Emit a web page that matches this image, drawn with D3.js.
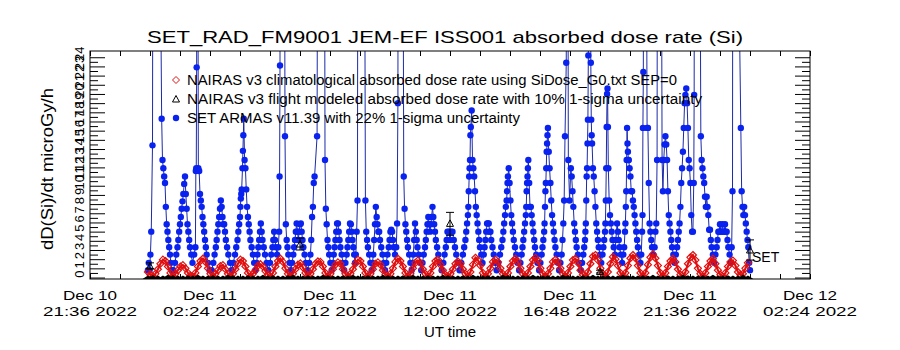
<!DOCTYPE html>
<html>
<head>
<meta charset="utf-8">
<script src="https://cdn.jsdelivr.net/npm/d3@7"></script>
<style>
  body { margin: 0; background: #fff; }
  svg text { font-family: "Liberation Sans", "DejaVu Sans", sans-serif; fill: #000; }
</style>
</head>
<body>
<div id="chart"></div>
<script>
// time axis: minutes after Dec 10 2022 21:36 UT
const T0 = Date.UTC(2022, 11, 10, 21, 36);
const SPAN_MIN = 1728;

const tickMinutes = [0, 288, 576, 864, 1152, 1440, 1728];
const tickDay = ["Dec 10", "Dec 11", "Dec 11", "Dec 11", "Dec 11", "Dec 11", "Dec 12"];
const tickHour = ["21:36 2022", "02:24 2022", "07:12 2022", "12:00 2022", "16:48 2022", "21:36 2022", "02:24 2022"];
const yTicks = d3.range(0, 25);

// SET ARMAS absorbed dose rate (microGy/h) - time in minutes after T0
const setTime = [
  139,141,143,145,147,150,151,156,162,168,172,174,176,178,180,182,184,186,188,190,192,194,197,
  200,204,207,210,212,214,216,218,220,222,224,226,228,230,232,234,236,238,240,243,246,250,253,
  254,255,256,257,258,260,262,264,266,268,270,272,274,276,278,280,283,287,
  292,296,299,302,304,306,308,310,312,314,316,318,320,322,324,326,329,332,336,340,
  344,348,351,354,356,358,360,361,362,363,364,366,367,368,369,371,373,375,377,379,381,383,385,388,391,394,397,
  400,402,404,406,408,410,412,414,417,420,424,428,
  432,435,438,440,442,444,446,449,452,454,455,456,457,460,464,467,468,470,472,474,476,479,482,
  485,488,490,492,494,496,498,500,502,504,506,508,510,512,515,518,522,
  526,529,531,533,535,537,539,545,547,552,558,563,564,566,568,570,572,574,577,580,
  583,585,587,589,591,593,595,597,599,601,604,607,610,
  613,616,618,620,622,624,626,628,630,632,634,636,
  638,640,642,643,648,653,659,661,663,665,667,670,673,676,
  678,680,682,684,686,688,690,692,694,696,699,702,705,708,
  711,714,717,719,721,723,725,727,729,732,735,
  737,739,740,745,750,753,755,757,759,761,763,766,769,772,
  774,776,778,780,782,784,786,789,792,795,
  798,801,804,806,808,810,812,814,816,818,820,822,824,826,828,830,833,836,840,844,
  848,851,854,856,858,861,864,867,870,873,876,879,883,887,
  891,895,898,901,903,905,907,908,909,910,911,912,913,914,916,918,920,922,924,926,928,930,932,934,936,939,942,
  945,947,949,951,953,955,957,959,961,963,966,969,972,976,
  980,984,987,990,992,994,996,998,1000,1001,1002,1003,1005,1007,1009,1011,1013,1015,1017,1020,1023,1026,1030,
  1033,1036,1038,1040,1042,1044,1046,1047,1048,1049,1050,1051,1052,1054,1056,1058,1060,1062,1064,1066,1068,1071,1074,1078,
  1081,1084,1086,1088,1090,1091,1092,1093,1094,1095,1096,1097,1098,1099,1101,1103,1105,1107,1109,1111,1113,1115,1117,1120,1123,1126,
  1129,1132,1134,1136,1138,1140,1143,1145,1147,1148,1151,1154,1156,1158,1160,1162,1164,1166,1168,1171,1174,1178,
  1181,1184,1186,1188,1189,1190,1191,1192,1193,1194,1195,1196,1197,1200,1202,1203,1204,1205,1207,1209,1211,1213,1215,1217,1219,1221,1224,1227,
  1230,1232,1234,1236,1237,1238,1239,1240,1241,1242,1243,1244,1246,1248,1250,1252,1254,1257,1260,1262,1265,1267,1269,1271,1274,1277,
  1280,1282,1284,1285,1286,1287,1288,1289,1290,1291,1292,1293,1295,1297,1299,1301,1303,1305,1307,1309,1311,1313,1315,1318,1321,
  1323,1325,1326,1327,1328,1329,1334,1337,1339,1341,1343,1345,1347,1349,1352,1355,1357,1359,1361,1362,1368,1372,
  1373,1375,1377,1379,1381,1383,1385,1387,1389,1391,1393,1395,1397,1400,1403,
  1406,1409,1411,1413,1415,1417,1419,1421,1423,1425,1427,1429,1431,1433,1435,1437,1439,1441,1443,1445,1447,1449,1450,
  1451,1456,1461,1464,1466,1468,1470,1472,1474,1476,1478,1480,1482,1484,1486,1488,1490,1492,1495,1498,
  1501,1504,1506,1508,1510,1512,1514,1516,1518,1520,1522,1524,1526,1528,1530,1532,1535,1538,
  1540,1542,1543,1548,1554,1558,1562,1564,1566,1568,1570,1572,1574,1576,1578,1580,1582,1584
];
const setDose = [
  0.8,1.6,0.8,2.5,5.0,14.4,45,60,55,40,17.3,12.8,11.9,11.0,10.3,7.7,5.8,5.0,4.1,3.3,2.5,1.6,0.8,
  0.8,1.6,2.5,3.3,4.1,5.0,5.8,6.6,7.5,8.3,9.1,10.2,11.0,9.1,7.5,5.8,5.0,4.1,3.3,2.5,1.6,2.5,3.3,
  11.6,11.9,22.9,70,60,11.9,11.6,9.1,8.4,7.7,6.6,5.8,5.0,4.1,3.3,2.5,1.6,0.8,
  0.8,1.6,2.5,3.3,4.1,5.0,5.8,6.6,7.5,8.4,7.7,6.6,5.8,5.8,5.0,4.1,3.3,2.5,1.6,0.8,
  1.6,2.5,3.3,4.1,5.0,5.8,6.6,7.7,8.6,9.1,9.6,11.9,13.8,15.5,17.3,12.8,11.9,9.6,7.7,6.6,5.8,5.0,4.1,3.3,2.5,1.6,0.8,
  1.6,2.5,3.3,4.1,5.0,5.9,5.0,4.1,3.3,2.5,1.6,0.8,
  1.6,2.5,3.3,4.1,5.0,4.1,3.3,2.5,3.3,5.0,11.0,23.1,80,90,70,40,15.4,5.8,4.1,3.3,2.5,1.6,0.8,
  1.6,2.5,3.3,4.1,5.0,5.9,5.0,4.1,5.0,5.8,5.9,5.0,4.1,3.3,2.5,1.6,0.8,
  1.6,2.5,4.1,6.6,7.7,10.3,11.0,15.4,60,80,70,40,12.8,7.5,5.8,4.1,3.3,2.5,1.6,0.8,
  1.6,2.5,3.3,4.1,5.0,5.9,5.9,5.0,4.1,3.3,2.5,1.6,0.8,
  1.6,2.5,3.3,4.1,5.0,5.9,5.8,5.0,4.1,3.3,2.5,1.6,
  2.5,5.0,8.4,60,75,65,40,8.4,5.0,4.1,3.3,2.5,1.6,0.8,
  1.6,2.5,4.1,5.8,7.7,6.6,5.8,5.0,5.0,4.1,3.3,2.5,1.6,0.8,
  1.6,2.5,3.3,4.1,5.0,5.2,5.0,4.1,3.3,2.5,3.3,
  5.9,19.0,70,90,60,11.0,7.5,5.8,5.0,4.1,3.3,2.5,1.6,0.8,
  1.6,2.5,4.1,5.9,5.0,4.1,3.3,2.5,1.6,0.8,
  1.6,2.5,3.3,4.1,5.0,5.8,6.6,5.8,5.0,5.8,6.6,7.7,6.6,5.8,5.0,4.1,3.3,2.5,1.6,0.8,
  1.6,2.5,3.3,4.1,5.0,5.0,4.1,5.0,5.0,4.1,3.3,2.5,1.6,0.8,
  1.6,2.5,3.3,4.1,5.0,5.9,6.8,7.7,9.4,11.0,11.9,12.8,15.5,16.4,18.2,12.8,11.9,11.0,9.4,7.7,6.8,5.9,5.0,4.1,3.3,2.5,1.6,
  2.5,3.3,4.1,5.0,5.9,5.9,5.9,5.0,5.0,4.1,3.3,2.5,1.6,0.8,
  1.6,2.5,3.3,4.1,5.0,5.9,6.8,7.7,8.4,9.4,10.3,11.0,11.9,10.3,8.4,6.8,5.9,5.0,4.1,3.3,2.5,1.6,0.8,
  1.6,2.5,3.3,4.1,5.0,5.9,6.8,7.7,9.4,10.3,11.0,11.9,12.8,10.3,7.7,7.7,6.8,5.9,5.0,4.1,3.3,2.5,1.6,0.8,
  1.6,2.5,3.3,4.1,5.0,5.9,7.7,9.4,10.3,11.9,13.7,14.6,15.5,16.3,13.7,11.9,10.3,8.4,6.8,5.9,5.0,4.1,3.3,2.5,1.6,0.8,
  1.6,2.5,4.1,5.9,8.4,15.4,23.4,80,40,12.8,8.4,11.9,11.0,9.4,7.7,5.9,5.0,4.1,3.3,2.5,1.6,0.8,
  1.6,2.5,3.3,4.1,5.0,5.9,8.4,11.0,11.9,14.6,17.2,24.2,50,60,23.4,17.2,15.5,14.6,11.9,11.0,9.4,7.7,5.9,5.0,4.1,3.3,2.5,1.6,
  2.5,3.3,4.1,5.0,5.9,8.4,11.9,16.4,20.0,20.6,16.4,11.9,8.4,6.8,5.9,5.0,4.1,3.3,2.5,4.1,5.9,5.0,4.1,3.3,2.5,1.6,
  2.5,3.3,5.0,5.9,7.7,9.4,12.8,16.3,14.6,13.7,12.8,12.8,11.9,11.0,9.4,9.4,8.4,7.7,6.8,5.9,5.0,4.1,3.3,2.5,1.6,
  2.5,5.0,6.8,16.3,22.4,70,60,16.3,16.3,10.3,5.9,5.0,4.1,3.3,2.5,3.3,5.0,5.9,12.8,60,70,30,
  12.8,9.4,12.8,14.5,15.4,14.5,12.8,9.4,6.8,5.9,5.0,4.1,3.3,2.5,1.6,
  2.5,3.3,4.1,5.0,5.9,7.7,10.3,11.9,13.7,16.3,19.0,19.9,20.6,19.0,16.3,12.8,11.9,10.3,6.8,5.0,5.0,10.3,19.9,
  60,80,60,40,15.4,12.8,11.9,11.0,10.3,8.8,7.7,8.8,7.7,6.8,5.2,5.2,4.1,3.3,2.5,1.6,
  2.5,3.3,4.1,5.0,5.0,5.8,5.0,5.0,5.8,5.0,5.0,5.8,5.0,5.0,4.1,3.3,2.5,1.6,
  3.3,9.4,60,80,70,30,16.3,9.4,7.7,6.8,7.7,6.8,5.9,5.0,4.1,3.3,1.6,0.8
];

// NAIRAS v3 climatological dose rate, one value every 6 minutes from minute 139
const climStart = 139;
const climStep = 6;
const climDose = [
  0.6,0.3,0.1,
  0.4,0.9,1.5,1.95,1.8,1.2,0.5,0.1,
  0.4,0.8,1.2,1.35,1.0,0.5,0.2,
  0.1,0.5,1.2,1.8,2.05,1.7,1.0,0.4,
  0.1,0.4,0.8,1.25,1.35,0.9,0.4,
  0.1,0.4,0.9,1.5,1.95,1.8,1.2,0.5,
  0.1,0.4,0.8,1.3,1.45,1.2,0.7,0.3,
  0.1,0.5,1.2,1.8,2.05,1.7,1.0,0.4,
  0.1,0.4,0.9,1.4,1.55,1.1,0.5,
  0.2,0.4,0.9,1.5,1.75,1.7,1.2,0.5,
  0.1,0.4,0.9,1.4,1.65,1.5,0.9,0.4,
  0.1,0.4,0.9,1.5,1.95,1.8,1.2,0.5,
  0.1,0.4,0.9,1.5,1.65,1.4,0.8,0.3,
  0.1,0.4,1.0,1.7,2.05,1.8,1.2,0.5,
  0.1,0.4,1.0,1.6,1.85,1.6,0.9,0.4,
  0.1,0.5,1.2,1.8,1.95,1.4,0.8,0.3,
  0.1,0.4,0.9,1.5,1.75,1.5,0.9,0.4,
  0.1,0.6,1.4,2.15,1.9,1.3,0.5,
  0.1,0.4,1.0,1.7,1.95,1.7,1.0,0.4,
  0.1,0.5,1.2,1.8,2.05,1.7,1.0,0.4,
  0.1,0.5,1.2,1.9,2.15,1.8,1.0,0.4,
  0.1,0.4,1.0,1.7,1.95,1.7,1.0,0.4,
  0.1,0.5,1.2,1.9,2.05,1.6,0.8,0.3,
  0.1,0.6,1.5,2.3,2.45,1.9,1.0,0.4,
  0.1,0.6,1.5,2.25,2.0,1.3,0.5,
  0.1,0.5,1.3,2.1,2.45,2.1,1.3,0.5,
  0.1,0.5,1.4,2.2,2.55,2.1,1.3,0.5,
  0.1,0.5,1.2,1.8,2.05,1.7,0.9,0.3,
  0.1,0.6,1.5,2.2,2.45,1.9,1.0,0.4,
  0.1,0.5,1.2,1.8,2.05,1.5,0.8,0.3,
  0.1,0.5,1.2,1.7,1.85,1.3,0.6,0.3,
  0.4,1.0,1.6
];

// NAIRAS v3 flight modeled dose rate along the track, one value every 12 minutes from minute 139
const trackStart = 139;
const trackStep = 12;
const trackDose = [
  0.0,0.05,0.0,0.0,0.1,0.05,0.0,0.0,0.05,0.0,0.1,0.0,0.0,0.05,0.0,0.0,0.1,0.05,0.0,0.0,
  0.05,0.0,0.0,0.1,0.0,0.05,0.0,0.0,0.05,0.1,0.0,0.0,0.05,0.0,0.0,0.1,0.05,0.0,0.0,0.05,
  0.0,0.1,0.0,0.0,0.05,0.0,0.0,0.1,0.05,0.0,0.0,0.05,0.0,0.1,0.0,0.0,0.05,0.0,0.0,0.1,
  0.05,0.0,0.0,0.05,0.0,0.1,0.0,0.0,0.05,0.0,0.0,0.1,0.05,0.0,0.0,0.05,0.0,0.1,0.0,0.0,
  0.05,0.0,0.0,0.1,0.05,0.0,0.0,0.05,0.0,0.1,0.0,0.0,0.05,0.0,0.0,0.1,0.05,0.0,0.0,0.05,
  0.0,0.1,0.0,0.0,0.05,0.0,0.0,0.1,0.05,0.0,0.0,0.05,0.0,0.1,0.0,0.0,0.05,0.0,0.0,0.1,0.0
];
// flight modeled points with their 1-sigma band
const flightTime = [144, 504, 864, 1224, 1584];
const flightDose = [1.25, 3.65, 5.9, 0.65, 3.0];
const flightLow  = [0.95, 3.0, 4.6, 0.5, 1.9];
const flightHigh = [1.6, 4.3, 7.1, 0.8, 4.1];

const legendLabels = [
  "NAIRAS v3 climatological absorbed dose rate using SiDose_G0.txt SEP=0",
  "NAIRAS v3 flight modeled absorbed dose rate with 10% 1-sigma uncertainty",
  "SET ARMAS v11.39 with 22% 1-sigma uncertainty"
];

const W = 900, H = 350;
const margin = { top: 51, right: 90, bottom: 71, left: 90 };

const svg = d3.select("#chart").append("svg")
  .attr("width", W).attr("height", H);

const x = d3.scaleUtc()
  .domain([new Date(T0), new Date(T0 + SPAN_MIN * 60000)])
  .range([margin.left, W - margin.right]);
const y = d3.scaleLinear()
  .domain([-0.16, 24.68])
  .range([H - margin.bottom, margin.top]);
const tx = m => x(new Date(T0 + m * 60000));

const blue = "#0a22f0", blueLine = "#1c2aa8", red = "#e01010";

svg.append("clipPath").attr("id", "plotClip")
  .append("rect")
  .attr("x", margin.left).attr("y", margin.top)
  .attr("width", W - margin.left - margin.right)
  .attr("height", H - margin.top - margin.bottom);

// axes ticks (IDL style, inward on all four sides)
const minorX = d3.range(0, SPAN_MIN + 1, 72).map(m => new Date(T0 + m * 60000));
const noText = () => "";
const strip = g => { g.select(".domain").remove(); g.selectAll("line").attr("stroke", "#000"); };

svg.append("g").attr("transform", `translate(0,${H - margin.bottom})`)
  .call(d3.axisBottom(x).tickValues(minorX).tickSize(-5).tickFormat(noText)).call(strip);
svg.append("g").attr("transform", `translate(0,${margin.top})`)
  .call(d3.axisTop(x).tickValues(minorX).tickSize(-5).tickFormat(noText)).call(strip);

[[d3.axisLeft, margin.left], [d3.axisRight, W - margin.right]].forEach(([ax, pos]) => {
  svg.append("g").attr("transform", `translate(${pos},0)`)
    .call(ax(y).tickValues(yTicks).tickSize(-15).tickFormat(noText)).call(strip);
  svg.append("g").attr("transform", `translate(${pos},0)`)
    .call(ax(y).tickValues(d3.range(0.5, 24.5, 1)).tickSize(-8).tickFormat(noText)).call(strip);
});

// y tick labels, rotated like the original (they sit a little above their tick)
svg.append("g").selectAll("text")
  .data(yTicks).join("text")
  .attr("transform", d => `translate(84,${y(d) - 3.5}) rotate(-90)`)
  .attr("text-anchor", "middle")
  .attr("font-size", 13)
  .text(d => d);

// x tick labels (two lines)
const xlab = svg.append("g").attr("text-anchor", "middle").attr("font-size", 13.5);
xlab.selectAll("text.day").data(tickMinutes).join("text").attr("class", "day")
  .attr("x", d => tx(d)).attr("y", 300)
  .attr("textLength", 54).attr("lengthAdjust", "spacingAndGlyphs")
  .text((d, i) => tickDay[i]);
xlab.selectAll("text.hour").data(tickMinutes).join("text").attr("class", "hour")
  .attr("x", d => tx(d)).attr("y", 316)
  .attr("textLength", 94).attr("lengthAdjust", "spacingAndGlyphs")
  .text((d, i) => tickHour[i]);

// data
const plot = svg.append("g").attr("clip-path", "url(#plotClip)");
const setData = setTime.map((t, i) => ({ t, v: setDose[i] }));

plot.append("path")
  .datum(setData)
  .attr("fill", "none")
  .attr("stroke", blueLine)
  .attr("stroke-width", 1)
  .attr("d", d3.line().x(d => tx(d.t)).y(d => y(d.v)));

plot.append("g").selectAll("circle")
  .data(setData).join("circle")
  .attr("cx", d => tx(d.t)).attr("cy", d => y(d.v))
  .attr("r", 3.2).attr("fill", blue);

const diamond = "M0,-3.5L3.5,0L0,3.5L-3.5,0Z";
const triangle = "M0,-3.5L3.5,3L-3.5,3Z";
const flatTriangle = "M0,-1L4,1.5L-4,1.5Z";

// climatological model (red diamonds)
plot.append("path")
  .datum(climDose)
  .attr("fill", "none").attr("stroke", red).attr("stroke-width", 2.2)
  .attr("d", d3.line().x((d, i) => tx(climStart + i * climStep)).y(d => y(d)));
plot.append("g").selectAll("path.clim")
  .data(climDose).join("path").attr("class", "clim")
  .attr("d", diamond)
  .attr("transform", (d, i) => `translate(${tx(climStart + i * climStep)},${y(d)})`)
  .attr("fill", "none").attr("stroke", red).attr("stroke-width", 1.2);

// flight modeled track (black triangles along the bottom)
plot.append("g").selectAll("path")
  .data(trackDose).join("path")
  .attr("d", flatTriangle)
  .attr("transform", (d, i) => `translate(${tx(trackStart + i * trackStep)},${y(d)})`)
  .attr("fill", "#000").attr("stroke", "#000").attr("stroke-width", 1.6);

const fl = plot.append("g").attr("stroke", "#000").attr("fill", "none");
flightTime.forEach((t, i) => {
  const cx = tx(t);
  fl.append("line").attr("x1", cx).attr("x2", cx).attr("y1", y(flightLow[i])).attr("y2", y(flightHigh[i]));
  fl.append("line").attr("x1", cx - 4).attr("x2", cx + 4).attr("y1", y(flightLow[i])).attr("y2", y(flightLow[i]));
  fl.append("line").attr("x1", cx - 4).attr("x2", cx + 4).attr("y1", y(flightHigh[i])).attr("y2", y(flightHigh[i]));
  fl.append("path").attr("d", triangle).attr("transform", `translate(${cx},${y(flightDose[i])})`);
});

// frame
svg.append("rect")
  .attr("x", margin.left).attr("y", margin.top)
  .attr("width", W - margin.left - margin.right)
  .attr("height", H - margin.top - margin.bottom)
  .attr("fill", "none").attr("stroke", "#000");

// legend
const lg = svg.append("g");
const legY = [80, 99, 118];
lg.append("path").attr("d", diamond).attr("transform", `translate(176,${legY[0]})`)
  .attr("fill", "none").attr("stroke", red);
lg.append("path").attr("d", triangle).attr("transform", `translate(176,${legY[1]})`)
  .attr("fill", "none").attr("stroke", "#000");
lg.append("circle").attr("cx", 176).attr("cy", legY[2]).attr("r", 3.2).attr("fill", blue);
const legW = [490, 515, 333];
lg.selectAll("text").data(legendLabels).join("text")
  .attr("x", 187).attr("y", (d, i) => legY[i] + 5)
  .attr("font-size", 14)
  .attr("textLength", (d, i) => legW[i]).attr("lengthAdjust", "spacingAndGlyphs")
  .text(d => d);

// end-of-track label
svg.append("text").attr("x", 752).attr("y", 262).attr("font-size", 14).text("SET");

// titles
svg.append("text").attr("x", 147).attr("y", 43).attr("font-size", 17)
  .attr("textLength", 596).attr("lengthAdjust", "spacingAndGlyphs")
  .text("SET_RAD_FM9001  JEM-EF ISS001 absorbed dose rate (Si)");
svg.append("text").attr("x", 450).attr("y", 337).attr("font-size", 15)
  .attr("text-anchor", "middle").text("UT time");
svg.append("text").attr("transform", "translate(53,169) rotate(-90)")
  .attr("text-anchor", "middle").attr("font-size", 16)
  .attr("textLength", 162).attr("lengthAdjust", "spacingAndGlyphs")
  .text("dD(Si)/dt microGy/h");
</script>
</body>
</html>
